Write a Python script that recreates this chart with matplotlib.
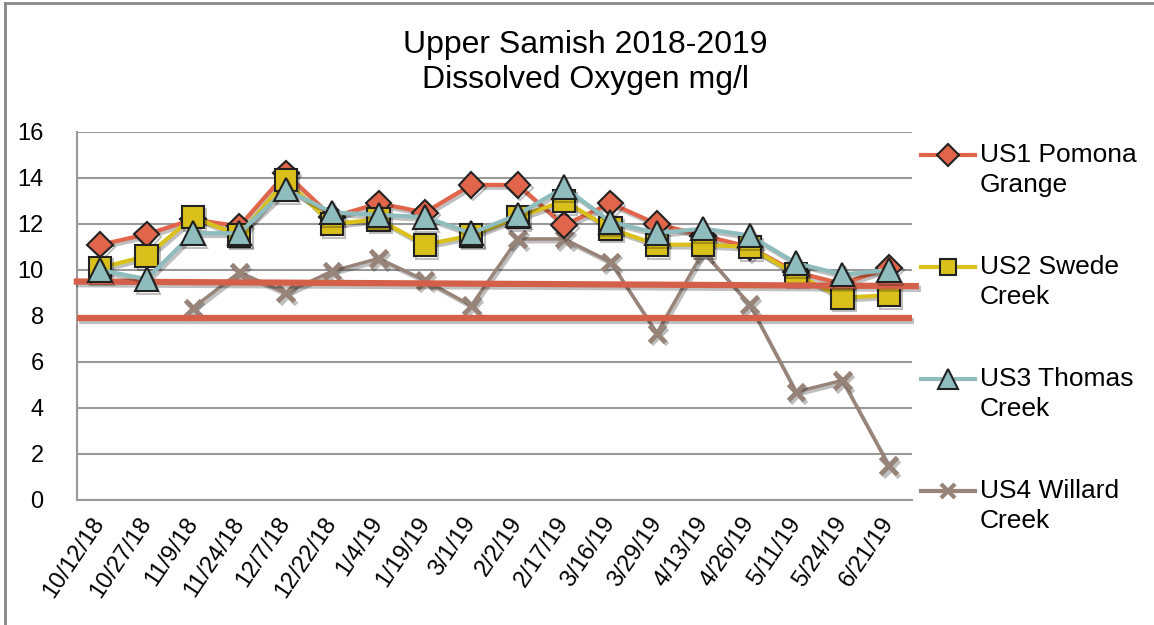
import numpy as np
import matplotlib.pyplot as plt
import matplotlib.patheffects as pe
from matplotlib.lines import Line2D

plt.rcParams['font.family'] = ['Liberation Sans', 'DejaVu Sans']

dates = ['10/12/18', '10/27/18', '11/9/18', '11/24/18', '12/7/18', '12/22/18',
         '1/4/19', '1/19/19', '3/1/19', '2/2/19', '2/17/19', '3/16/19',
         '3/29/19', '4/13/19', '4/26/19', '5/11/19', '5/24/19', '6/21/19']

us1 = [11.1, 11.55, 12.2, 11.9, 14.2, 12.3, 12.9, 12.5, 13.7, 13.7, 11.95, 12.9,
       12.0, 11.5, 11.0, 9.9, 9.4, 10.1]
us2 = [10.1, 10.6, 12.3, 11.5, 13.9, 12.0, 12.2, 11.1, 11.5, 12.3, 13.0, 11.8,
       11.1, 11.1, 11.0, 9.8, 8.8, 8.9]
us3 = [10.0, 9.6, 11.6, 11.6, 13.5, 12.5, 12.4, 12.3, 11.6, 12.4, 13.6, 12.1,
       11.6, 11.8, 11.5, 10.3, 9.8, 10.0]
us4 = [np.nan, np.nan, 8.35, 9.9, 9.0, 9.95, 10.5, 9.55, 8.45, 11.35, 11.35, 10.35,
       7.25, 10.8, 8.5, 4.7, 5.2, 1.5]

labels = ['US1 Pomona\nGrange', 'US2 Swede\nCreek', 'US3 Thomas\nCreek', 'US4 Willard\nCreek']
upper_limit = [9.5, 9.3]   # hand drawn line, slightly tilted
lower_limit = [7.9, 7.9]

W, H = 1154, 625
fig = plt.figure(figsize=(W/100, H/100), dpi=100)
ax = fig.add_axes([77/W, 1 - 500/H, (912-77)/W, (500-132)/H])

x = np.arange(len(dates))
shadow = [pe.SimpleLineShadow(offset=(1.5, -2), alpha=0.25, shadow_color='k'), pe.Normal()]

c1, c2, c3, c4 = '#E0654B', '#D9C01A', '#8FBDBD', '#978378'

# threshold lines
ax.plot([-0.57, 17.65], upper_limit, color='#D4604A', lw=4.5, zorder=6, clip_on=False,
        solid_capstyle='butt', path_effects=shadow)
ax.plot([-0.5, 17.5], lower_limit, color='#D4604A', lw=4.5, zorder=6, clip_on=False,
        solid_capstyle='butt', path_effects=shadow)

ax.plot(x, us4, color=c4, lw=2.5, marker='x', ms=12, mew=3.5, zorder=3, path_effects=shadow)
ax.plot(x, us1, color=c1, lw=3, marker='D', ms=13, mec='#222222', mew=1.5,
        zorder=4, path_effects=shadow)
ax.plot(x, us2, color=c2, lw=3, marker='s', ms=16, mec='#222222',
        mew=1.5, zorder=5, path_effects=shadow)
ax.plot(x, us3, color=c3, lw=3, marker='^', ms=17, mec='#222222', mew=1.5,
        zorder=7, path_effects=shadow)

ax.set_xlim(-0.5, 17.5)
ax.set_ylim(0, 16)
ax.set_yticks(range(0, 17, 2))
ax.set_xticks(x)
ax.set_xticklabels(dates, rotation=56, ha='right', va='center', rotation_mode='anchor')
ax.tick_params(axis='both', length=0, labelsize=17)
ax.tick_params(axis='y', pad=24)
ax.tick_params(axis='x', pad=14)
ax.grid(axis='y', color='#999999', lw=1.5)
ax.set_axisbelow(True)
for s in ['top', 'right']:
    ax.spines[s].set_visible(False)
for s in ['left', 'bottom']:
    ax.spines[s].set_color('#999999')
    ax.spines[s].set_linewidth(1.5)

fig.text(585/W, 1 - 45/H, 'Upper Samish 2018-2019', ha='center', va='center', fontsize=23)
fig.text(585/W, 1 - 80/H, 'Dissolved Oxygen mg/l', ha='center', va='center', fontsize=23)

# legend drawn by hand so the handle sits on the first text line
leg_styles = [
    dict(color=c1, marker='D', ms=11, mec='#222222', mew=1.5),
    dict(color=c2, marker='s', ms=12, mec='#222222', mew=1.5),
    dict(color=c3, marker='^', ms=14, mec='#222222', mew=1.5),
    dict(color=c4, marker='x', ms=10, mew=3),
]
leg_y = [155, 267, 379, 491]
for lab, st, yy in zip(labels, leg_styles, leg_y):
    fy = 1 - yy/H
    fig.add_artist(Line2D([921/W, 975/W], [fy, fy], lw=3, color=st['color']))
    fig.add_artist(Line2D([948/W], [fy], lw=0, **st))
    first, second = lab.split('\n')
    fig.text(980/W, fy, first, ha='left', va='center', fontsize=19)
    fig.text(980/W, 1 - (yy + 30)/H, second, ha='left', va='center', fontsize=19)

# chart border
fig.add_artist(Line2D([5/W, 5/W], [0, 1 - 3/H], color='#888888', lw=2))
fig.add_artist(Line2D([5/W, 1], [1 - 3/H, 1 - 3/H], color='#888888', lw=2))

fig.savefig('out.png', dpi=100)
